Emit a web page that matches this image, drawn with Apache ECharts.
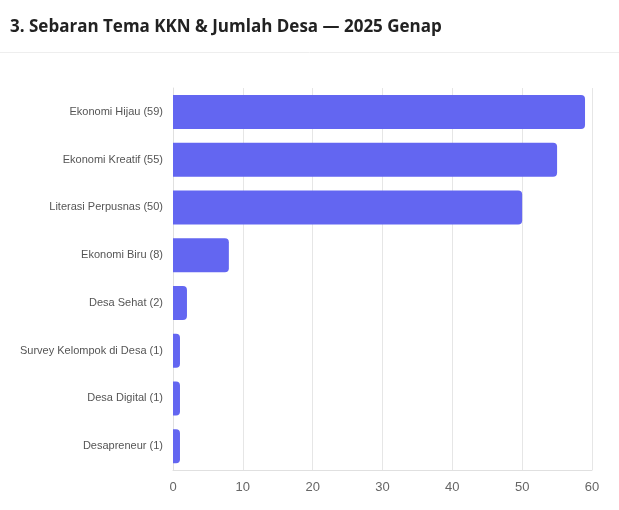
<!DOCTYPE html>
<html><head><meta charset="utf-8">
<script src="https://cdn.jsdelivr.net/npm/echarts@6/dist/echarts.min.js"></script>
<style>html,body{margin:0;padding:0;background:#fff}#c{width:619px;height:510px}</style>
</head><body><div id="c"></div>
<script>
var categories = ["Ekonomi Hijau (59)","Ekonomi Kreatif (55)","Literasi Perpusnas (50)","Ekonomi Biru (8)","Desa Sehat (2)","Survey Kelompok di Desa (1)","Desa Digital (1)","Desapreneur (1)"];
var values = [59,55,50,8,2,1,1,1];
var xTicks = [0,10,20,30,40,50,60];
var chart = echarts.init(document.getElementById('c'));
chart.setOption({
  animation:false,
  title:{text:"3. Sebaran Tema KKN & Jumlah Desa — 2025 Genap",left:5,top:14,textStyle:{fontFamily:"Open Sans",fontSize:17,fontWeight:"bold",color:"#222"}},
  graphic:[{type:'line',shape:{x1:0,y1:52.5,x2:619,y2:52.5},style:{stroke:'#eeeeee',lineWidth:1}}],
  grid:{left:173,right:27,top:88,bottom:40},
  xAxis:{type:'value',min:xTicks[0],max:xTicks[xTicks.length-1],interval:10,
    axisLine:{show:true,lineStyle:{color:'#e0e0e0'}},axisTick:{show:false},
    axisLabel:{color:'#666',fontFamily:'Liberation Sans',fontSize:13,margin:11},
    splitLine:{lineStyle:{color:'#e6e6e6'}}},
  yAxis:{type:'category',data:categories,inverse:true,
    axisLine:{show:true,lineStyle:{color:'#e0e0e0'}},axisTick:{show:false},
    axisLabel:{color:'#555',fontFamily:'Liberation Sans',fontSize:11,margin:10}},
  series:[{type:'bar',data:values,barWidth:34,itemStyle:{color:'#6366f1',borderRadius:[0,4,4,0]}}]
});
</script></body></html>
